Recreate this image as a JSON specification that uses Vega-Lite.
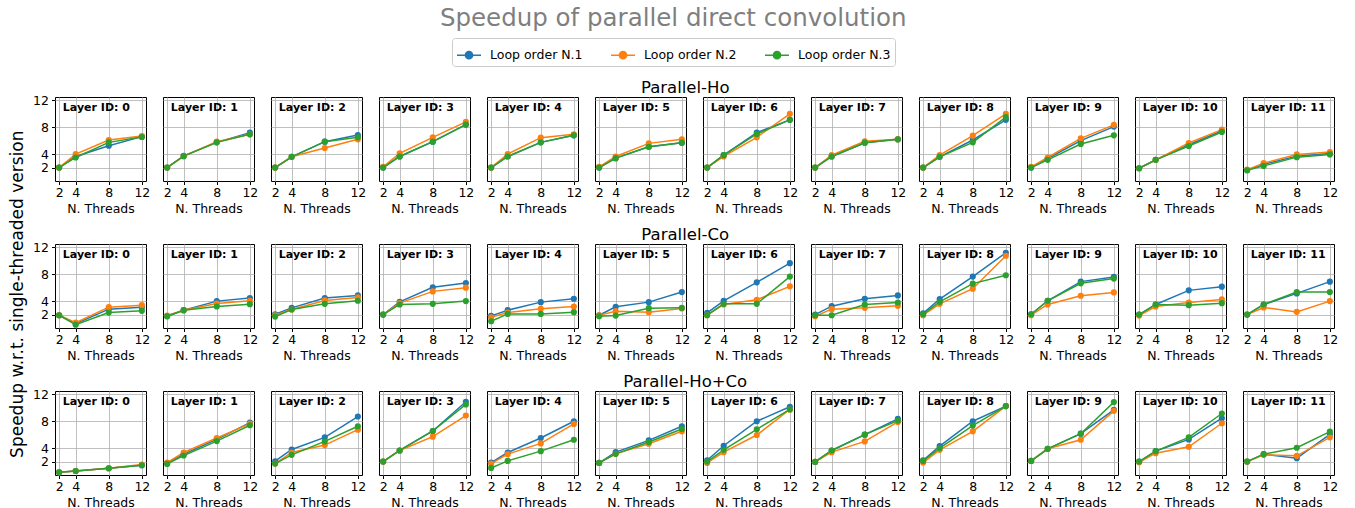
{
"$schema": "https://vega.github.io/schema/vega-lite/v6.json",
"padding": {"left": 8, "top": 6, "right": 5, "bottom": 0},
"title": {"text": "Speedup of parallel direct convolution", "fontSize": 24.5, "color": "#7f7f7f", "fontWeight": "normal", "anchor": "middle", "offset": 6},
"data": {"values": [
{"s":"Ho","l":0,"o":"Loop order N.1","t":2,"v":2},{"s":"Ho","l":0,"o":"Loop order N.1","t":4,"v":3.65},{"s":"Ho","l":0,"o":"Loop order N.1","t":8,"v":5.25},{"s":"Ho","l":0,"o":"Loop order N.1","t":12,"v":6.6},
{"s":"Ho","l":0,"o":"Loop order N.2","t":2,"v":2},{"s":"Ho","l":0,"o":"Loop order N.2","t":4,"v":4.0},{"s":"Ho","l":0,"o":"Loop order N.2","t":8,"v":6.1},{"s":"Ho","l":0,"o":"Loop order N.2","t":12,"v":6.7},
{"s":"Ho","l":0,"o":"Loop order N.3","t":2,"v":2},{"s":"Ho","l":0,"o":"Loop order N.3","t":4,"v":3.5},{"s":"Ho","l":0,"o":"Loop order N.3","t":8,"v":5.75},{"s":"Ho","l":0,"o":"Loop order N.3","t":12,"v":6.55},
{"s":"Ho","l":1,"o":"Loop order N.1","t":2,"v":2},{"s":"Ho","l":1,"o":"Loop order N.1","t":4,"v":3.75},{"s":"Ho","l":1,"o":"Loop order N.1","t":8,"v":5.75},{"s":"Ho","l":1,"o":"Loop order N.1","t":12,"v":7.2},
{"s":"Ho","l":1,"o":"Loop order N.2","t":2,"v":2},{"s":"Ho","l":1,"o":"Loop order N.2","t":4,"v":3.7},{"s":"Ho","l":1,"o":"Loop order N.2","t":8,"v":5.85},{"s":"Ho","l":1,"o":"Loop order N.2","t":12,"v":6.95},
{"s":"Ho","l":1,"o":"Loop order N.3","t":2,"v":2},{"s":"Ho","l":1,"o":"Loop order N.3","t":4,"v":3.7},{"s":"Ho","l":1,"o":"Loop order N.3","t":8,"v":5.75},{"s":"Ho","l":1,"o":"Loop order N.3","t":12,"v":6.95},
{"s":"Ho","l":2,"o":"Loop order N.1","t":2,"v":2},{"s":"Ho","l":2,"o":"Loop order N.1","t":4,"v":3.6},{"s":"Ho","l":2,"o":"Loop order N.1","t":8,"v":5.85},{"s":"Ho","l":2,"o":"Loop order N.1","t":12,"v":6.85},
{"s":"Ho","l":2,"o":"Loop order N.2","t":2,"v":2},{"s":"Ho","l":2,"o":"Loop order N.2","t":4,"v":3.6},{"s":"Ho","l":2,"o":"Loop order N.2","t":8,"v":4.9},{"s":"Ho","l":2,"o":"Loop order N.2","t":12,"v":6.2},
{"s":"Ho","l":2,"o":"Loop order N.3","t":2,"v":2},{"s":"Ho","l":2,"o":"Loop order N.3","t":4,"v":3.6},{"s":"Ho","l":2,"o":"Loop order N.3","t":8,"v":5.85},{"s":"Ho","l":2,"o":"Loop order N.3","t":12,"v":6.5},
{"s":"Ho","l":3,"o":"Loop order N.1","t":2,"v":2},{"s":"Ho","l":3,"o":"Loop order N.1","t":4,"v":3.65},{"s":"Ho","l":3,"o":"Loop order N.1","t":8,"v":5.85},{"s":"Ho","l":3,"o":"Loop order N.1","t":12,"v":8.4},
{"s":"Ho","l":3,"o":"Loop order N.2","t":2,"v":2.1},{"s":"Ho","l":3,"o":"Loop order N.2","t":4,"v":4.1},{"s":"Ho","l":3,"o":"Loop order N.2","t":8,"v":6.5},{"s":"Ho","l":3,"o":"Loop order N.2","t":12,"v":8.8},
{"s":"Ho","l":3,"o":"Loop order N.3","t":2,"v":2},{"s":"Ho","l":3,"o":"Loop order N.3","t":4,"v":3.65},{"s":"Ho","l":3,"o":"Loop order N.3","t":8,"v":5.85},{"s":"Ho","l":3,"o":"Loop order N.3","t":12,"v":8.4},
{"s":"Ho","l":4,"o":"Loop order N.1","t":2,"v":2},{"s":"Ho","l":4,"o":"Loop order N.1","t":4,"v":3.65},{"s":"Ho","l":4,"o":"Loop order N.1","t":8,"v":5.75},{"s":"Ho","l":4,"o":"Loop order N.1","t":12,"v":6.8},
{"s":"Ho","l":4,"o":"Loop order N.2","t":2,"v":2},{"s":"Ho","l":4,"o":"Loop order N.2","t":4,"v":4.0},{"s":"Ho","l":4,"o":"Loop order N.2","t":8,"v":6.45},{"s":"Ho","l":4,"o":"Loop order N.2","t":12,"v":6.95},
{"s":"Ho","l":4,"o":"Loop order N.3","t":2,"v":2},{"s":"Ho","l":4,"o":"Loop order N.3","t":4,"v":3.65},{"s":"Ho","l":4,"o":"Loop order N.3","t":8,"v":5.75},{"s":"Ho","l":4,"o":"Loop order N.3","t":12,"v":6.8},
{"s":"Ho","l":5,"o":"Loop order N.1","t":2,"v":2},{"s":"Ho","l":5,"o":"Loop order N.1","t":4,"v":3.4},{"s":"Ho","l":5,"o":"Loop order N.1","t":8,"v":5.1},{"s":"Ho","l":5,"o":"Loop order N.1","t":12,"v":5.7},
{"s":"Ho","l":5,"o":"Loop order N.2","t":2,"v":2.1},{"s":"Ho","l":5,"o":"Loop order N.2","t":4,"v":3.65},{"s":"Ho","l":5,"o":"Loop order N.2","t":8,"v":5.6},{"s":"Ho","l":5,"o":"Loop order N.2","t":12,"v":6.2},
{"s":"Ho","l":5,"o":"Loop order N.3","t":2,"v":2},{"s":"Ho","l":5,"o":"Loop order N.3","t":4,"v":3.4},{"s":"Ho","l":5,"o":"Loop order N.3","t":8,"v":5.1},{"s":"Ho","l":5,"o":"Loop order N.3","t":12,"v":5.7},
{"s":"Ho","l":6,"o":"Loop order N.1","t":2,"v":2},{"s":"Ho","l":6,"o":"Loop order N.1","t":4,"v":3.85},{"s":"Ho","l":6,"o":"Loop order N.1","t":8,"v":7.2},{"s":"Ho","l":6,"o":"Loop order N.1","t":12,"v":9.1},
{"s":"Ho","l":6,"o":"Loop order N.2","t":2,"v":2},{"s":"Ho","l":6,"o":"Loop order N.2","t":4,"v":3.65},{"s":"Ho","l":6,"o":"Loop order N.2","t":8,"v":6.5},{"s":"Ho","l":6,"o":"Loop order N.2","t":12,"v":10.0},
{"s":"Ho","l":6,"o":"Loop order N.3","t":2,"v":2},{"s":"Ho","l":6,"o":"Loop order N.3","t":4,"v":3.85},{"s":"Ho","l":6,"o":"Loop order N.3","t":8,"v":7.0},{"s":"Ho","l":6,"o":"Loop order N.3","t":12,"v":9.1},
{"s":"Ho","l":7,"o":"Loop order N.1","t":2,"v":2},{"s":"Ho","l":7,"o":"Loop order N.1","t":4,"v":3.65},{"s":"Ho","l":7,"o":"Loop order N.1","t":8,"v":5.7},{"s":"Ho","l":7,"o":"Loop order N.1","t":12,"v":6.2},
{"s":"Ho","l":7,"o":"Loop order N.2","t":2,"v":2},{"s":"Ho","l":7,"o":"Loop order N.2","t":4,"v":3.85},{"s":"Ho","l":7,"o":"Loop order N.2","t":8,"v":5.9},{"s":"Ho","l":7,"o":"Loop order N.2","t":12,"v":6.2},
{"s":"Ho","l":7,"o":"Loop order N.3","t":2,"v":2},{"s":"Ho","l":7,"o":"Loop order N.3","t":4,"v":3.65},{"s":"Ho","l":7,"o":"Loop order N.3","t":8,"v":5.7},{"s":"Ho","l":7,"o":"Loop order N.3","t":12,"v":6.2},
{"s":"Ho","l":8,"o":"Loop order N.1","t":2,"v":2},{"s":"Ho","l":8,"o":"Loop order N.1","t":4,"v":3.6},{"s":"Ho","l":8,"o":"Loop order N.1","t":8,"v":6.1},{"s":"Ho","l":8,"o":"Loop order N.1","t":12,"v":9.1},
{"s":"Ho","l":8,"o":"Loop order N.2","t":2,"v":2},{"s":"Ho","l":8,"o":"Loop order N.2","t":4,"v":3.85},{"s":"Ho","l":8,"o":"Loop order N.2","t":8,"v":6.75},{"s":"Ho","l":8,"o":"Loop order N.2","t":12,"v":10.0},
{"s":"Ho","l":8,"o":"Loop order N.3","t":2,"v":2},{"s":"Ho","l":8,"o":"Loop order N.3","t":4,"v":3.6},{"s":"Ho","l":8,"o":"Loop order N.3","t":8,"v":5.75},{"s":"Ho","l":8,"o":"Loop order N.3","t":12,"v":9.5},
{"s":"Ho","l":9,"o":"Loop order N.1","t":2,"v":2},{"s":"Ho","l":9,"o":"Loop order N.1","t":4,"v":3.35},{"s":"Ho","l":9,"o":"Loop order N.1","t":8,"v":6.0},{"s":"Ho","l":9,"o":"Loop order N.1","t":12,"v":8.1},
{"s":"Ho","l":9,"o":"Loop order N.2","t":2,"v":2.1},{"s":"Ho","l":9,"o":"Loop order N.2","t":4,"v":3.5},{"s":"Ho","l":9,"o":"Loop order N.2","t":8,"v":6.35},{"s":"Ho","l":9,"o":"Loop order N.2","t":12,"v":8.35},
{"s":"Ho","l":9,"o":"Loop order N.3","t":2,"v":2},{"s":"Ho","l":9,"o":"Loop order N.3","t":4,"v":3.15},{"s":"Ho","l":9,"o":"Loop order N.3","t":8,"v":5.5},{"s":"Ho","l":9,"o":"Loop order N.3","t":12,"v":6.8},
{"s":"Ho","l":10,"o":"Loop order N.1","t":2,"v":1.9},{"s":"Ho","l":10,"o":"Loop order N.1","t":4,"v":3.15},{"s":"Ho","l":10,"o":"Loop order N.1","t":8,"v":5.4},{"s":"Ho","l":10,"o":"Loop order N.1","t":12,"v":7.45},
{"s":"Ho","l":10,"o":"Loop order N.2","t":2,"v":1.9},{"s":"Ho","l":10,"o":"Loop order N.2","t":4,"v":3.15},{"s":"Ho","l":10,"o":"Loop order N.2","t":8,"v":5.65},{"s":"Ho","l":10,"o":"Loop order N.2","t":12,"v":7.65},
{"s":"Ho","l":10,"o":"Loop order N.3","t":2,"v":1.9},{"s":"Ho","l":10,"o":"Loop order N.3","t":4,"v":3.15},{"s":"Ho","l":10,"o":"Loop order N.3","t":8,"v":5.2},{"s":"Ho","l":10,"o":"Loop order N.3","t":12,"v":7.3},
{"s":"Ho","l":11,"o":"Loop order N.1","t":2,"v":1.6},{"s":"Ho","l":11,"o":"Loop order N.1","t":4,"v":2.5},{"s":"Ho","l":11,"o":"Loop order N.1","t":8,"v":3.7},{"s":"Ho","l":11,"o":"Loop order N.1","t":12,"v":4.1},
{"s":"Ho","l":11,"o":"Loop order N.2","t":2,"v":1.7},{"s":"Ho","l":11,"o":"Loop order N.2","t":4,"v":2.65},{"s":"Ho","l":11,"o":"Loop order N.2","t":8,"v":3.95},{"s":"Ho","l":11,"o":"Loop order N.2","t":12,"v":4.3},
{"s":"Ho","l":11,"o":"Loop order N.3","t":2,"v":1.6},{"s":"Ho","l":11,"o":"Loop order N.3","t":4,"v":2.25},{"s":"Ho","l":11,"o":"Loop order N.3","t":8,"v":3.55},{"s":"Ho","l":11,"o":"Loop order N.3","t":12,"v":3.95},
{"s":"Co","l":0,"o":"Loop order N.1","t":2,"v":1.9},{"s":"Co","l":0,"o":"Loop order N.1","t":4,"v":0.65},{"s":"Co","l":0,"o":"Loop order N.1","t":8,"v":2.8},{"s":"Co","l":0,"o":"Loop order N.1","t":12,"v":3.1},
{"s":"Co","l":0,"o":"Loop order N.2","t":2,"v":1.9},{"s":"Co","l":0,"o":"Loop order N.2","t":4,"v":0.8},{"s":"Co","l":0,"o":"Loop order N.2","t":8,"v":3.1},{"s":"Co","l":0,"o":"Loop order N.2","t":12,"v":3.4},
{"s":"Co","l":0,"o":"Loop order N.3","t":2,"v":1.9},{"s":"Co","l":0,"o":"Loop order N.3","t":4,"v":0.5},{"s":"Co","l":0,"o":"Loop order N.3","t":8,"v":2.3},{"s":"Co","l":0,"o":"Loop order N.3","t":12,"v":2.55},
{"s":"Co","l":1,"o":"Loop order N.1","t":2,"v":1.75},{"s":"Co","l":1,"o":"Loop order N.1","t":4,"v":2.65},{"s":"Co","l":1,"o":"Loop order N.1","t":8,"v":4.0},{"s":"Co","l":1,"o":"Loop order N.1","t":12,"v":4.45},
{"s":"Co","l":1,"o":"Loop order N.2","t":2,"v":1.85},{"s":"Co","l":1,"o":"Loop order N.2","t":4,"v":2.65},{"s":"Co","l":1,"o":"Loop order N.2","t":8,"v":3.65},{"s":"Co","l":1,"o":"Loop order N.2","t":12,"v":4.05},
{"s":"Co","l":1,"o":"Loop order N.3","t":2,"v":1.75},{"s":"Co","l":1,"o":"Loop order N.3","t":4,"v":2.65},{"s":"Co","l":1,"o":"Loop order N.3","t":8,"v":3.2},{"s":"Co","l":1,"o":"Loop order N.3","t":12,"v":3.55},
{"s":"Co","l":2,"o":"Loop order N.1","t":2,"v":2.05},{"s":"Co","l":2,"o":"Loop order N.1","t":4,"v":3.0},{"s":"Co","l":2,"o":"Loop order N.1","t":8,"v":4.45},{"s":"Co","l":2,"o":"Loop order N.1","t":12,"v":4.85},
{"s":"Co","l":2,"o":"Loop order N.2","t":2,"v":1.9},{"s":"Co","l":2,"o":"Loop order N.2","t":4,"v":2.75},{"s":"Co","l":2,"o":"Loop order N.2","t":8,"v":4.1},{"s":"Co","l":2,"o":"Loop order N.2","t":12,"v":4.55},
{"s":"Co","l":2,"o":"Loop order N.3","t":2,"v":1.7},{"s":"Co","l":2,"o":"Loop order N.3","t":4,"v":2.75},{"s":"Co","l":2,"o":"Loop order N.3","t":8,"v":3.6},{"s":"Co","l":2,"o":"Loop order N.3","t":12,"v":4.05},
{"s":"Co","l":3,"o":"Loop order N.1","t":2,"v":2},{"s":"Co","l":3,"o":"Loop order N.1","t":4,"v":3.9},{"s":"Co","l":3,"o":"Loop order N.1","t":8,"v":6.05},{"s":"Co","l":3,"o":"Loop order N.1","t":12,"v":6.7},
{"s":"Co","l":3,"o":"Loop order N.2","t":2,"v":2},{"s":"Co","l":3,"o":"Loop order N.2","t":4,"v":3.7},{"s":"Co","l":3,"o":"Loop order N.2","t":8,"v":5.45},{"s":"Co","l":3,"o":"Loop order N.2","t":12,"v":6.0},
{"s":"Co","l":3,"o":"Loop order N.3","t":2,"v":2},{"s":"Co","l":3,"o":"Loop order N.3","t":4,"v":3.5},{"s":"Co","l":3,"o":"Loop order N.3","t":8,"v":3.6},{"s":"Co","l":3,"o":"Loop order N.3","t":12,"v":4.0},
{"s":"Co","l":4,"o":"Loop order N.1","t":2,"v":1.8},{"s":"Co","l":4,"o":"Loop order N.1","t":4,"v":2.65},{"s":"Co","l":4,"o":"Loop order N.1","t":8,"v":3.85},{"s":"Co","l":4,"o":"Loop order N.1","t":12,"v":4.35},
{"s":"Co","l":4,"o":"Loop order N.2","t":2,"v":1.6},{"s":"Co","l":4,"o":"Loop order N.2","t":4,"v":2.3},{"s":"Co","l":4,"o":"Loop order N.2","t":8,"v":2.85},{"s":"Co","l":4,"o":"Loop order N.2","t":12,"v":3.2},
{"s":"Co","l":4,"o":"Loop order N.3","t":2,"v":1.0},{"s":"Co","l":4,"o":"Loop order N.3","t":4,"v":2.1},{"s":"Co","l":4,"o":"Loop order N.3","t":8,"v":2.1},{"s":"Co","l":4,"o":"Loop order N.3","t":12,"v":2.35},
{"s":"Co","l":5,"o":"Loop order N.1","t":2,"v":1.9},{"s":"Co","l":5,"o":"Loop order N.1","t":4,"v":3.15},{"s":"Co","l":5,"o":"Loop order N.1","t":8,"v":3.85},{"s":"Co","l":5,"o":"Loop order N.1","t":12,"v":5.35},
{"s":"Co","l":5,"o":"Loop order N.2","t":2,"v":1.9},{"s":"Co","l":5,"o":"Loop order N.2","t":4,"v":2.5},{"s":"Co","l":5,"o":"Loop order N.2","t":8,"v":2.35},{"s":"Co","l":5,"o":"Loop order N.2","t":12,"v":2.9},
{"s":"Co","l":5,"o":"Loop order N.3","t":2,"v":1.75},{"s":"Co","l":5,"o":"Loop order N.3","t":4,"v":1.85},{"s":"Co","l":5,"o":"Loop order N.3","t":8,"v":2.95},{"s":"Co","l":5,"o":"Loop order N.3","t":12,"v":3.0},
{"s":"Co","l":6,"o":"Loop order N.1","t":2,"v":2.25},{"s":"Co","l":6,"o":"Loop order N.1","t":4,"v":4.05},{"s":"Co","l":6,"o":"Loop order N.1","t":8,"v":6.8},{"s":"Co","l":6,"o":"Loop order N.1","t":12,"v":9.65},
{"s":"Co","l":6,"o":"Loop order N.2","t":2,"v":1.9},{"s":"Co","l":6,"o":"Loop order N.2","t":4,"v":3.5},{"s":"Co","l":6,"o":"Loop order N.2","t":8,"v":4.2},{"s":"Co","l":6,"o":"Loop order N.2","t":12,"v":6.2},
{"s":"Co","l":6,"o":"Loop order N.3","t":2,"v":1.9},{"s":"Co","l":6,"o":"Loop order N.3","t":4,"v":3.6},{"s":"Co","l":6,"o":"Loop order N.3","t":8,"v":3.6},{"s":"Co","l":6,"o":"Loop order N.3","t":12,"v":7.65},
{"s":"Co","l":7,"o":"Loop order N.1","t":2,"v":2.0},{"s":"Co","l":7,"o":"Loop order N.1","t":4,"v":3.25},{"s":"Co","l":7,"o":"Loop order N.1","t":8,"v":4.35},{"s":"Co","l":7,"o":"Loop order N.1","t":12,"v":4.85},
{"s":"Co","l":7,"o":"Loop order N.2","t":2,"v":1.75},{"s":"Co","l":7,"o":"Loop order N.2","t":4,"v":2.8},{"s":"Co","l":7,"o":"Loop order N.2","t":8,"v":3.0},{"s":"Co","l":7,"o":"Loop order N.2","t":12,"v":3.3},
{"s":"Co","l":7,"o":"Loop order N.3","t":2,"v":1.9},{"s":"Co","l":7,"o":"Loop order N.3","t":4,"v":1.9},{"s":"Co","l":7,"o":"Loop order N.3","t":8,"v":3.5},{"s":"Co","l":7,"o":"Loop order N.3","t":12,"v":3.8},
{"s":"Co","l":8,"o":"Loop order N.1","t":2,"v":2.2},{"s":"Co","l":8,"o":"Loop order N.1","t":4,"v":4.3},{"s":"Co","l":8,"o":"Loop order N.1","t":8,"v":7.65},{"s":"Co","l":8,"o":"Loop order N.1","t":12,"v":11.2},
{"s":"Co","l":8,"o":"Loop order N.2","t":2,"v":1.9},{"s":"Co","l":8,"o":"Loop order N.2","t":4,"v":3.6},{"s":"Co","l":8,"o":"Loop order N.2","t":8,"v":5.85},{"s":"Co","l":8,"o":"Loop order N.2","t":12,"v":10.75},
{"s":"Co","l":8,"o":"Loop order N.3","t":2,"v":2.05},{"s":"Co","l":8,"o":"Loop order N.3","t":4,"v":3.9},{"s":"Co","l":8,"o":"Loop order N.3","t":8,"v":6.6},{"s":"Co","l":8,"o":"Loop order N.3","t":12,"v":7.85},
{"s":"Co","l":9,"o":"Loop order N.1","t":2,"v":2.05},{"s":"Co","l":9,"o":"Loop order N.1","t":4,"v":4.05},{"s":"Co","l":9,"o":"Loop order N.1","t":8,"v":6.9},{"s":"Co","l":9,"o":"Loop order N.1","t":12,"v":7.6},
{"s":"Co","l":9,"o":"Loop order N.2","t":2,"v":1.9},{"s":"Co","l":9,"o":"Loop order N.2","t":4,"v":3.5},{"s":"Co","l":9,"o":"Loop order N.2","t":8,"v":4.8},{"s":"Co","l":9,"o":"Loop order N.2","t":12,"v":5.3},
{"s":"Co","l":9,"o":"Loop order N.3","t":2,"v":2.05},{"s":"Co","l":9,"o":"Loop order N.3","t":4,"v":4.05},{"s":"Co","l":9,"o":"Loop order N.3","t":8,"v":6.65},{"s":"Co","l":9,"o":"Loop order N.3","t":12,"v":7.35},
{"s":"Co","l":10,"o":"Loop order N.1","t":2,"v":2.0},{"s":"Co","l":10,"o":"Loop order N.1","t":4,"v":3.5},{"s":"Co","l":10,"o":"Loop order N.1","t":8,"v":5.6},{"s":"Co","l":10,"o":"Loop order N.1","t":12,"v":6.15},
{"s":"Co","l":10,"o":"Loop order N.2","t":2,"v":1.85},{"s":"Co","l":10,"o":"Loop order N.2","t":4,"v":3.2},{"s":"Co","l":10,"o":"Loop order N.2","t":8,"v":3.8},{"s":"Co","l":10,"o":"Loop order N.2","t":12,"v":4.25},
{"s":"Co","l":10,"o":"Loop order N.3","t":2,"v":2.0},{"s":"Co","l":10,"o":"Loop order N.3","t":4,"v":3.5},{"s":"Co","l":10,"o":"Loop order N.3","t":8,"v":3.4},{"s":"Co","l":10,"o":"Loop order N.3","t":12,"v":3.7},
{"s":"Co","l":11,"o":"Loop order N.1","t":2,"v":2},{"s":"Co","l":11,"o":"Loop order N.1","t":4,"v":3.5},{"s":"Co","l":11,"o":"Loop order N.1","t":8,"v":5.15},{"s":"Co","l":11,"o":"Loop order N.1","t":12,"v":6.9},
{"s":"Co","l":11,"o":"Loop order N.2","t":2,"v":2},{"s":"Co","l":11,"o":"Loop order N.2","t":4,"v":3.05},{"s":"Co","l":11,"o":"Loop order N.2","t":8,"v":2.4},{"s":"Co","l":11,"o":"Loop order N.2","t":12,"v":4.0},
{"s":"Co","l":11,"o":"Loop order N.3","t":2,"v":2},{"s":"Co","l":11,"o":"Loop order N.3","t":4,"v":3.5},{"s":"Co","l":11,"o":"Loop order N.3","t":8,"v":5.35},{"s":"Co","l":11,"o":"Loop order N.3","t":12,"v":5.35},
{"s":"HoCo","l":0,"o":"Loop order N.1","t":2,"v":0.4},{"s":"HoCo","l":0,"o":"Loop order N.1","t":4,"v":0.6},{"s":"HoCo","l":0,"o":"Loop order N.1","t":8,"v":1.0},{"s":"HoCo","l":0,"o":"Loop order N.1","t":12,"v":1.45},
{"s":"HoCo","l":0,"o":"Loop order N.2","t":2,"v":0.4},{"s":"HoCo","l":0,"o":"Loop order N.2","t":4,"v":0.6},{"s":"HoCo","l":0,"o":"Loop order N.2","t":8,"v":1.0},{"s":"HoCo","l":0,"o":"Loop order N.2","t":12,"v":1.55},
{"s":"HoCo","l":0,"o":"Loop order N.3","t":2,"v":0.4},{"s":"HoCo","l":0,"o":"Loop order N.3","t":4,"v":0.6},{"s":"HoCo","l":0,"o":"Loop order N.3","t":8,"v":1.0},{"s":"HoCo","l":0,"o":"Loop order N.3","t":12,"v":1.45},
{"s":"HoCo","l":1,"o":"Loop order N.1","t":2,"v":1.75},{"s":"HoCo","l":1,"o":"Loop order N.1","t":4,"v":3.1},{"s":"HoCo","l":1,"o":"Loop order N.1","t":8,"v":5.3},{"s":"HoCo","l":1,"o":"Loop order N.1","t":12,"v":7.8},
{"s":"HoCo","l":1,"o":"Loop order N.2","t":2,"v":1.85},{"s":"HoCo","l":1,"o":"Loop order N.2","t":4,"v":3.35},{"s":"HoCo","l":1,"o":"Loop order N.2","t":8,"v":5.5},{"s":"HoCo","l":1,"o":"Loop order N.2","t":12,"v":7.65},
{"s":"HoCo","l":1,"o":"Loop order N.3","t":2,"v":1.65},{"s":"HoCo","l":1,"o":"Loop order N.3","t":4,"v":2.9},{"s":"HoCo","l":1,"o":"Loop order N.3","t":8,"v":5.05},{"s":"HoCo","l":1,"o":"Loop order N.3","t":12,"v":7.4},
{"s":"HoCo","l":2,"o":"Loop order N.1","t":2,"v":2.05},{"s":"HoCo","l":2,"o":"Loop order N.1","t":4,"v":3.8},{"s":"HoCo","l":2,"o":"Loop order N.1","t":8,"v":5.6},{"s":"HoCo","l":2,"o":"Loop order N.1","t":12,"v":8.7},
{"s":"HoCo","l":2,"o":"Loop order N.2","t":2,"v":1.7},{"s":"HoCo","l":2,"o":"Loop order N.2","t":4,"v":3.35},{"s":"HoCo","l":2,"o":"Loop order N.2","t":8,"v":4.45},{"s":"HoCo","l":2,"o":"Loop order N.2","t":12,"v":6.75},
{"s":"HoCo","l":2,"o":"Loop order N.3","t":2,"v":1.7},{"s":"HoCo","l":2,"o":"Loop order N.3","t":4,"v":3.0},{"s":"HoCo","l":2,"o":"Loop order N.3","t":8,"v":5.0},{"s":"HoCo","l":2,"o":"Loop order N.3","t":12,"v":7.25},
{"s":"HoCo","l":3,"o":"Loop order N.1","t":2,"v":2},{"s":"HoCo","l":3,"o":"Loop order N.1","t":4,"v":3.65},{"s":"HoCo","l":3,"o":"Loop order N.1","t":8,"v":6.55},{"s":"HoCo","l":3,"o":"Loop order N.1","t":12,"v":10.9},
{"s":"HoCo","l":3,"o":"Loop order N.2","t":2,"v":2},{"s":"HoCo","l":3,"o":"Loop order N.2","t":4,"v":3.65},{"s":"HoCo","l":3,"o":"Loop order N.2","t":8,"v":5.7},{"s":"HoCo","l":3,"o":"Loop order N.2","t":12,"v":8.85},
{"s":"HoCo","l":3,"o":"Loop order N.3","t":2,"v":2},{"s":"HoCo","l":3,"o":"Loop order N.3","t":4,"v":3.65},{"s":"HoCo","l":3,"o":"Loop order N.3","t":8,"v":6.55},{"s":"HoCo","l":3,"o":"Loop order N.3","t":12,"v":10.5},
{"s":"HoCo","l":4,"o":"Loop order N.1","t":2,"v":1.85},{"s":"HoCo","l":4,"o":"Loop order N.1","t":4,"v":3.35},{"s":"HoCo","l":4,"o":"Loop order N.1","t":8,"v":5.5},{"s":"HoCo","l":4,"o":"Loop order N.1","t":12,"v":8.0},
{"s":"HoCo","l":4,"o":"Loop order N.2","t":2,"v":1.7},{"s":"HoCo","l":4,"o":"Loop order N.2","t":4,"v":3.1},{"s":"HoCo","l":4,"o":"Loop order N.2","t":8,"v":4.7},{"s":"HoCo","l":4,"o":"Loop order N.2","t":12,"v":7.6},
{"s":"HoCo","l":4,"o":"Loop order N.3","t":2,"v":1.05},{"s":"HoCo","l":4,"o":"Loop order N.3","t":4,"v":2.1},{"s":"HoCo","l":4,"o":"Loop order N.3","t":8,"v":3.55},{"s":"HoCo","l":4,"o":"Loop order N.3","t":12,"v":5.25},
{"s":"HoCo","l":5,"o":"Loop order N.1","t":2,"v":1.8},{"s":"HoCo","l":5,"o":"Loop order N.1","t":4,"v":3.4},{"s":"HoCo","l":5,"o":"Loop order N.1","t":8,"v":5.15},{"s":"HoCo","l":5,"o":"Loop order N.1","t":12,"v":7.25},
{"s":"HoCo","l":5,"o":"Loop order N.2","t":2,"v":1.8},{"s":"HoCo","l":5,"o":"Loop order N.2","t":4,"v":3.15},{"s":"HoCo","l":5,"o":"Loop order N.2","t":8,"v":4.65},{"s":"HoCo","l":5,"o":"Loop order N.2","t":12,"v":6.5},
{"s":"HoCo","l":5,"o":"Loop order N.3","t":2,"v":1.8},{"s":"HoCo","l":5,"o":"Loop order N.3","t":4,"v":3.15},{"s":"HoCo","l":5,"o":"Loop order N.3","t":8,"v":4.9},{"s":"HoCo","l":5,"o":"Loop order N.3","t":12,"v":6.85},
{"s":"HoCo","l":6,"o":"Loop order N.1","t":2,"v":2.2},{"s":"HoCo","l":6,"o":"Loop order N.1","t":4,"v":4.35},{"s":"HoCo","l":6,"o":"Loop order N.1","t":8,"v":8.0},{"s":"HoCo","l":6,"o":"Loop order N.1","t":12,"v":10.15},
{"s":"HoCo","l":6,"o":"Loop order N.2","t":2,"v":1.8},{"s":"HoCo","l":6,"o":"Loop order N.2","t":4,"v":3.4},{"s":"HoCo","l":6,"o":"Loop order N.2","t":8,"v":5.95},{"s":"HoCo","l":6,"o":"Loop order N.2","t":12,"v":9.75},
{"s":"HoCo","l":6,"o":"Loop order N.3","t":2,"v":2.0},{"s":"HoCo","l":6,"o":"Loop order N.3","t":4,"v":3.75},{"s":"HoCo","l":6,"o":"Loop order N.3","t":8,"v":6.8},{"s":"HoCo","l":6,"o":"Loop order N.3","t":12,"v":9.75},
{"s":"HoCo","l":7,"o":"Loop order N.1","t":2,"v":1.95},{"s":"HoCo","l":7,"o":"Loop order N.1","t":4,"v":3.65},{"s":"HoCo","l":7,"o":"Loop order N.1","t":8,"v":6.0},{"s":"HoCo","l":7,"o":"Loop order N.1","t":12,"v":8.35},
{"s":"HoCo","l":7,"o":"Loop order N.2","t":2,"v":1.95},{"s":"HoCo","l":7,"o":"Loop order N.2","t":4,"v":3.4},{"s":"HoCo","l":7,"o":"Loop order N.2","t":8,"v":5.0},{"s":"HoCo","l":7,"o":"Loop order N.2","t":12,"v":7.9},
{"s":"HoCo","l":7,"o":"Loop order N.3","t":2,"v":1.95},{"s":"HoCo","l":7,"o":"Loop order N.3","t":4,"v":3.65},{"s":"HoCo","l":7,"o":"Loop order N.3","t":8,"v":6.0},{"s":"HoCo","l":7,"o":"Loop order N.3","t":12,"v":8.1},
{"s":"HoCo","l":8,"o":"Loop order N.1","t":2,"v":2.2},{"s":"HoCo","l":8,"o":"Loop order N.1","t":4,"v":4.3},{"s":"HoCo","l":8,"o":"Loop order N.1","t":8,"v":8.0},{"s":"HoCo","l":8,"o":"Loop order N.1","t":12,"v":10.25},
{"s":"HoCo","l":8,"o":"Loop order N.2","t":2,"v":1.85},{"s":"HoCo","l":8,"o":"Loop order N.2","t":4,"v":3.75},{"s":"HoCo","l":8,"o":"Loop order N.2","t":8,"v":6.5},{"s":"HoCo","l":8,"o":"Loop order N.2","t":12,"v":10.25},
{"s":"HoCo","l":8,"o":"Loop order N.3","t":2,"v":2.1},{"s":"HoCo","l":8,"o":"Loop order N.3","t":4,"v":4.0},{"s":"HoCo","l":8,"o":"Loop order N.3","t":8,"v":7.35},{"s":"HoCo","l":8,"o":"Loop order N.3","t":12,"v":10.25},
{"s":"HoCo","l":9,"o":"Loop order N.1","t":2,"v":2.1},{"s":"HoCo","l":9,"o":"Loop order N.1","t":4,"v":3.9},{"s":"HoCo","l":9,"o":"Loop order N.1","t":8,"v":6.15},{"s":"HoCo","l":9,"o":"Loop order N.1","t":12,"v":9.7},
{"s":"HoCo","l":9,"o":"Loop order N.2","t":2,"v":2.1},{"s":"HoCo","l":9,"o":"Loop order N.2","t":4,"v":3.9},{"s":"HoCo","l":9,"o":"Loop order N.2","t":8,"v":5.25},{"s":"HoCo","l":9,"o":"Loop order N.2","t":12,"v":9.55},
{"s":"HoCo","l":9,"o":"Loop order N.3","t":2,"v":2.1},{"s":"HoCo","l":9,"o":"Loop order N.3","t":4,"v":3.9},{"s":"HoCo","l":9,"o":"Loop order N.3","t":8,"v":6.15},{"s":"HoCo","l":9,"o":"Loop order N.3","t":12,"v":10.85},
{"s":"HoCo","l":10,"o":"Loop order N.1","t":2,"v":2.0},{"s":"HoCo","l":10,"o":"Loop order N.1","t":4,"v":3.55},{"s":"HoCo","l":10,"o":"Loop order N.1","t":8,"v":5.3},{"s":"HoCo","l":10,"o":"Loop order N.1","t":12,"v":8.45},
{"s":"HoCo","l":10,"o":"Loop order N.2","t":2,"v":1.9},{"s":"HoCo","l":10,"o":"Loop order N.2","t":4,"v":3.25},{"s":"HoCo","l":10,"o":"Loop order N.2","t":8,"v":4.2},{"s":"HoCo","l":10,"o":"Loop order N.2","t":12,"v":7.7},
{"s":"HoCo","l":10,"o":"Loop order N.3","t":2,"v":2.0},{"s":"HoCo","l":10,"o":"Loop order N.3","t":4,"v":3.55},{"s":"HoCo","l":10,"o":"Loop order N.3","t":8,"v":5.6},{"s":"HoCo","l":10,"o":"Loop order N.3","t":12,"v":9.15},
{"s":"HoCo","l":11,"o":"Loop order N.1","t":2,"v":2.0},{"s":"HoCo","l":11,"o":"Loop order N.1","t":4,"v":3.1},{"s":"HoCo","l":11,"o":"Loop order N.1","t":8,"v":2.5},{"s":"HoCo","l":11,"o":"Loop order N.1","t":12,"v":6.05},
{"s":"HoCo","l":11,"o":"Loop order N.2","t":2,"v":2.0},{"s":"HoCo","l":11,"o":"Loop order N.2","t":4,"v":3.0},{"s":"HoCo","l":11,"o":"Loop order N.2","t":8,"v":2.85},{"s":"HoCo","l":11,"o":"Loop order N.2","t":12,"v":5.6},
{"s":"HoCo","l":11,"o":"Loop order N.3","t":2,"v":2.0},{"s":"HoCo","l":11,"o":"Loop order N.3","t":4,"v":3.1},{"s":"HoCo","l":11,"o":"Loop order N.3","t":8,"v":4.05},{"s":"HoCo","l":11,"o":"Loop order N.3","t":12,"v":6.45}
]},
"vconcat": [
{
"title": {"text": "Speedup w.r.t. single-threaded version", "orient": "left", "anchor": "middle", "fontSize": 17, "fontWeight": "normal", "color": "black", "offset": 6},
"spacing": 11,
"vconcat": [
{
 "title": {"text": "Parallel-Ho", "fontSize": 16.5, "fontWeight": "normal", "anchor": "middle", "color": "black", "offset": -2},
 "transform": [{"filter": "datum.s == 'Ho'"}],
 "facet": {"column": {"field": "l", "type": "ordinal", "header": {"title": null, "labels": false}}},
 "spacing": 17,
 "bounds": "flush",
 "spec": {
  "width": 91, "height": 84,
  "encoding": {
   "x": {"field": "t", "type": "quantitative", "scale": {"domain": [1.5, 12.5], "nice": false, "zero": false}, "axis": {"values": [2,4,8,12], "title": "N. Threads", "labelFlush": false, "labelOverlap": false}},
   "y": {"field": "v", "type": "quantitative", "scale": {"domain": [0, 12.5], "nice": false}, "axis": {"values": [2,4,8,12], "title": null, "labelPadding": 3}}
  },
  "layer": [
   {"mark": {"type": "line", "strokeWidth": 1.5}, "encoding": {"color": {"field": "o", "type": "nominal", "title": null, "scale": {"range": ["#1f77b4", "#ff7f0e", "#2ca02c"]}}}},
   {"mark": {"type": "circle", "size": 38, "opacity": 1}, "encoding": {"color": {"field": "o", "type": "nominal", "title": null, "scale": {"range": ["#1f77b4", "#ff7f0e", "#2ca02c"]}}}},
   {"transform": [{"filter": "datum.t == 2 && datum.o == 'Loop order N.1'"}, {"calculate": "'Layer ID: ' + datum.l", "as": "lab"}],
    "mark": {"type": "text", "align": "left", "baseline": "middle", "fontWeight": "bold", "fontSize": 11, "color": "black"},
    "encoding": {"x": {"datum": 2.45, "type": "quantitative"}, "y": {"datum": 10.85, "type": "quantitative"}, "text": {"field": "lab", "type": "nominal"}}}
  ]
 }
},
{
 "title": {"text": "Parallel-Co", "fontSize": 16.5, "fontWeight": "normal", "anchor": "middle", "color": "black", "offset": -2},
 "transform": [{"filter": "datum.s == 'Co'"}],
 "facet": {"column": {"field": "l", "type": "ordinal", "header": {"title": null, "labels": false}}},
 "spacing": 17,
 "bounds": "flush",
 "spec": {
  "width": 91, "height": 84,
  "encoding": {
   "x": {"field": "t", "type": "quantitative", "scale": {"domain": [1.5, 12.5], "nice": false, "zero": false}, "axis": {"values": [2,4,8,12], "title": "N. Threads", "labelFlush": false, "labelOverlap": false}},
   "y": {"field": "v", "type": "quantitative", "scale": {"domain": [0, 12.5], "nice": false}, "axis": {"values": [2,4,8,12], "title": null, "labelPadding": 3}}
  },
  "layer": [
   {"mark": {"type": "line", "strokeWidth": 1.5}, "encoding": {"color": {"field": "o", "type": "nominal", "title": null, "scale": {"range": ["#1f77b4", "#ff7f0e", "#2ca02c"]}}}},
   {"mark": {"type": "circle", "size": 38, "opacity": 1}, "encoding": {"color": {"field": "o", "type": "nominal", "title": null, "scale": {"range": ["#1f77b4", "#ff7f0e", "#2ca02c"]}}}},
   {"transform": [{"filter": "datum.t == 2 && datum.o == 'Loop order N.1'"}, {"calculate": "'Layer ID: ' + datum.l", "as": "lab"}],
    "mark": {"type": "text", "align": "left", "baseline": "middle", "fontWeight": "bold", "fontSize": 11, "color": "black"},
    "encoding": {"x": {"datum": 2.45, "type": "quantitative"}, "y": {"datum": 10.85, "type": "quantitative"}, "text": {"field": "lab", "type": "nominal"}}}
  ]
 }
},
{
 "title": {"text": "Parallel-Ho+Co", "fontSize": 16.5, "fontWeight": "normal", "anchor": "middle", "color": "black", "offset": -2},
 "transform": [{"filter": "datum.s == 'HoCo'"}],
 "facet": {"column": {"field": "l", "type": "ordinal", "header": {"title": null, "labels": false}}},
 "spacing": 17,
 "bounds": "flush",
 "spec": {
  "width": 91, "height": 84,
  "encoding": {
   "x": {"field": "t", "type": "quantitative", "scale": {"domain": [1.5, 12.5], "nice": false, "zero": false}, "axis": {"values": [2,4,8,12], "title": "N. Threads", "labelFlush": false, "labelOverlap": false}},
   "y": {"field": "v", "type": "quantitative", "scale": {"domain": [0, 12.5], "nice": false}, "axis": {"values": [2,4,8,12], "title": null, "labelPadding": 3}}
  },
  "layer": [
   {"mark": {"type": "line", "strokeWidth": 1.5}, "encoding": {"color": {"field": "o", "type": "nominal", "title": null, "scale": {"range": ["#1f77b4", "#ff7f0e", "#2ca02c"]}}}},
   {"mark": {"type": "circle", "size": 38, "opacity": 1}, "encoding": {"color": {"field": "o", "type": "nominal", "title": null, "scale": {"range": ["#1f77b4", "#ff7f0e", "#2ca02c"]}}}},
   {"transform": [{"filter": "datum.t == 2 && datum.o == 'Loop order N.1'"}, {"calculate": "'Layer ID: ' + datum.l", "as": "lab"}],
    "mark": {"type": "text", "align": "left", "baseline": "middle", "fontWeight": "bold", "fontSize": 11, "color": "black"},
    "encoding": {"x": {"datum": 2.45, "type": "quantitative"}, "y": {"datum": 10.85, "type": "quantitative"}, "text": {"field": "lab", "type": "nominal"}}}
  ]
 }
}
]
}
],
"config": {
 "font": "DejaVu Sans",
 "view": {"stroke": "black", "strokeWidth": 1},
 "axis": {"grid": true, "gridColor": "#b0b0b0", "gridWidth": 0.8, "domain": false, "tickColor": "black", "tickSize": 3.5, "labelFontSize": 12.5, "labelColor": "black", "titleFontSize": 12.5, "titleFontWeight": "normal", "titleColor": "black", "labelPadding": 2, "titlePadding": 3},
 "legend": {"orient": "top", "direction": "horizontal", "layout": {"top": {"anchor": "middle"}}, "labelFontSize": 12.5, "labelColor": "black", "labelOffset": 8, "strokeColor": "#cccccc", "cornerRadius": 3, "padding": 4, "columnPadding": 25, "symbolType": "M-1,0L1,0M-0.3,0A0.3,0.3 0 1 1 0.3,0A0.3,0.3 0 1 1 -0.3,0Z", "symbolSize": 576, "symbolStrokeWidth": 1.5, "offset": 13},
 "title": {"font": "DejaVu Sans"}
}
}
